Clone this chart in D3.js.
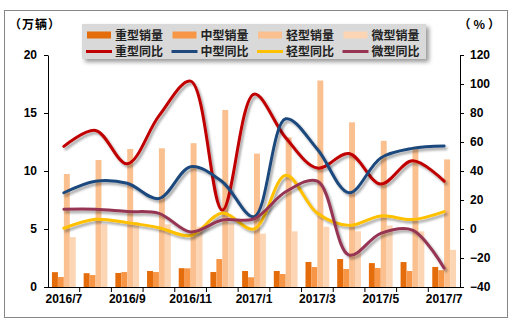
<!DOCTYPE html>
<html><head><meta charset="utf-8">
<script src="https://cdn.jsdelivr.net/npm/d3@7"></script>
<style>
html,body{margin:0;padding:0;background:#fff;}
svg{display:block;font-family:"Liberation Sans",Arial,"Noto Sans CJK SC",sans-serif;}
.cjk{font-family:"Noto Sans CJK SC","Liberation Sans",sans-serif;}
</style></head>
<body>
<script>
// ---------------- data ----------------
const categories = ["2016/7","2016/8","2016/9","2016/10","2016/11","2016/12","2017/1","2017/2","2017/3","2017/4","2017/5","2017/6","2017/7"];
const heavySales  = [1.28, 1.19, 1.21, 1.38, 1.62, 1.29, 1.38, 1.38, 2.16, 2.41, 2.06, 2.15, 1.73];
const mediumSales = [0.86, 1.03, 1.29, 1.29, 1.61, 2.41, 0.84, 1.12, 1.72, 1.55, 1.64, 1.38, 1.45];
const lightSales  = [9.74, 10.95, 11.9, 11.96, 12.4, 15.26, 11.5, 12.9, 17.8, 14.2, 12.6, 12.1, 11.0];
const microSales  = [4.3, 5.4, 5.6, 5.4, 5.2, 5.5, 4.6, 4.8, 5.2, 4.8, 5.3, 4.8, 3.2];
const heavyYoY  = [57, 68, 45, 78, 102, 13, 93, 63, 42, 52, 31, 47, 33];
const mediumYoY = [25, 33, 31.5, 21, 43, 32.6, 8.5, 76, 55, 25, 49, 55.6, 57.2];
const lightYoY  = [0.5, 6.7, 4.4, 0.9, -4.5, 11, 0, 37, 10.8, 2.5, 9, 6.5, 12];
const microYoY  = [13.6, 13.6, 12, 10.8, -2, 6.2, 7, 25.7, 33, -18, -3, -0.7, -27];
const leftTicks  = [0, 5, 10, 15, 20];
const rightTicks = [-40, -20, 0, 20, 40, 60, 80, 100, 120];
const barNames  = ["重型销量","中型销量","轻型销量","微型销量"];
const lineNames = ["重型同比","中型同比","轻型同比","微型同比"];
const barSeries  = [heavySales, mediumSales, lightSales, microSales];
const lineSeries = [heavyYoY, mediumYoY, lightYoY, microYoY];
const barColors  = ["#E46C0A","#F79646","#FAC090","#FCD5B5"];
const lineColors = ["#C00000","#1F497D","#FFC000","#953553"];

// ---------------- layout ----------------
const W = 514, H = 327;
const L = 48, R = 460, T = 55, B = 287;

const svg = d3.select("body").append("svg").attr("width", W).attr("height", H);
const defs = svg.append("defs");
const f = defs.append("filter").attr("id","shadow").attr("x","-10%").attr("y","-10%").attr("width","130%").attr("height","140%");
f.append("feDropShadow").attr("dx",2).attr("dy",2.5).attr("stdDeviation",1.2)
  .attr("flood-color","#000").attr("flood-opacity",0.35);
const f2 = defs.append("filter").attr("id","boxshadow").attr("x","-5%").attr("y","-20%").attr("width","115%").attr("height","160%");
f2.append("feDropShadow").attr("dx",3).attr("dy",3).attr("stdDeviation",2)
  .attr("flood-color","#000").attr("flood-opacity",0.4);

svg.append("rect").attr("x",0).attr("y",0).attr("width",W).attr("height",H).attr("fill","#fff");
svg.append("rect").attr("x",4.5).attr("y",10.5).attr("width",503).attr("height",307)
  .attr("fill","none").attr("stroke","#868686").attr("stroke-width",1);

const x0 = d3.scaleBand().domain(categories).range([L, R]).paddingInner(0.25).paddingOuter(0.125);
const x1 = d3.scaleBand().domain(barNames).range([0, x0.bandwidth()]);
const yL = d3.scaleLinear().domain([0, 20]).range([B, T]);
const yR = d3.scaleLinear().domain([-40, 120]).range([B, T]);

// bars
barSeries.forEach((vals, s) => {
  svg.append("g").selectAll("rect").data(vals).join("rect")
    .attr("x", (d, i) => x0(categories[i]) + x1(barNames[s]))
    .attr("width", x1.bandwidth())
    .attr("y", d => yL(d))
    .attr("height", d => yL(0) - yL(d))
    .attr("fill", barColors[s]);
});

// lines
const line = d3.line()
  .x((d, i) => x0(categories[i]) + x0.bandwidth() / 2)
  .y(d => yR(d))
  .curve(d3.curveCatmullRom.alpha(0.5));
lineSeries.forEach((vals, s) => {
  svg.append("path").datum(vals)
    .attr("d", line)
    .attr("fill", "none")
    .attr("stroke", lineColors[s])
    .attr("stroke-width", 3)
    .attr("stroke-linecap", "round")
    .attr("filter", "url(#shadow)");
});

// axes
const styleAxis = g => {
  g.selectAll("path,line").attr("stroke", "#000").attr("stroke-width", 1);
  g.selectAll("text").attr("font-size", 12).attr("font-weight", "bold").attr("fill", "#000")
    .attr("font-family", "'Liberation Sans',Arial,sans-serif");
};
svg.append("g").attr("transform", `translate(${L},0)`)
  .call(d3.axisLeft(yL).tickValues(leftTicks).tickSize(4).tickSizeOuter(0).tickPadding(7))
  .call(styleAxis);
svg.append("g").attr("transform", `translate(${R},0)`)
  .call(d3.axisRight(yR).tickValues(rightTicks).tickSize(4).tickSizeOuter(0).tickPadding(6))
  .call(styleAxis);
const xAxis = svg.append("g").attr("transform", `translate(0,${B})`)
  .call(d3.axisBottom(x0).tickSize(0).tickSizeOuter(0).tickPadding(7)
    .tickFormat((d, i) => i % 2 === 0 ? d : ""))
  .call(styleAxis);
xAxis.select(".domain").attr("d", `M${L},0.5H${R}`);
// tick marks at category boundaries
const step = x0.step();
const bounds = d3.range(1, categories.length).map(i => x0(categories[i]) - step * x0.paddingInner() / 2);
xAxis.selectAll("line.bnd").data(bounds).join("line").attr("class","bnd")
  .attr("x1", d => d).attr("x2", d => d).attr("y1", 0).attr("y2", 5)
  .attr("stroke", "#000");

// axis titles
svg.append("text").attr("class","cjk").attr("x", 9).attr("y", 29)
  .attr("font-size", 12).attr("font-weight", "bold").attr("letter-spacing", 1).text("（万辆）");
svg.append("text").attr("class","cjk").attr("x", 503).attr("y", 29).attr("text-anchor","end")
  .attr("font-size", 12).attr("font-weight", "bold").attr("letter-spacing", 3).text("（%）");

// legend
const lg = svg.append("g");
lg.append("rect").attr("x", 82).attr("y", 24).attr("width", 344).attr("height", 35)
  .attr("fill", "#D9D9D9").attr("filter", "url(#boxshadow)");
barNames.forEach((n, j) => {
  const x = 87 + j * 85.5;
  lg.append("rect").attr("x", x).attr("y", 31.5).attr("width", 24).attr("height", 7).attr("fill", barColors[j]);
  lg.append("text").attr("class","cjk").attr("x", x + 28).attr("y", 39.5)
    .attr("font-size", 12).attr("font-weight", "bold").attr("fill", "#222").text(n);
});
lineNames.forEach((n, j) => {
  const x = 86 + j * 85.5;
  lg.append("line").attr("x1", x).attr("x2", x + 26).attr("y1", 51.5).attr("y2", 51.5)
    .attr("stroke", lineColors[j]).attr("stroke-width", 3);
  lg.append("text").attr("class","cjk").attr("x", x + 29).attr("y", 56)
    .attr("font-size", 12).attr("font-weight", "bold").attr("fill", "#222").text(n);
});
</script>
</body></html>
